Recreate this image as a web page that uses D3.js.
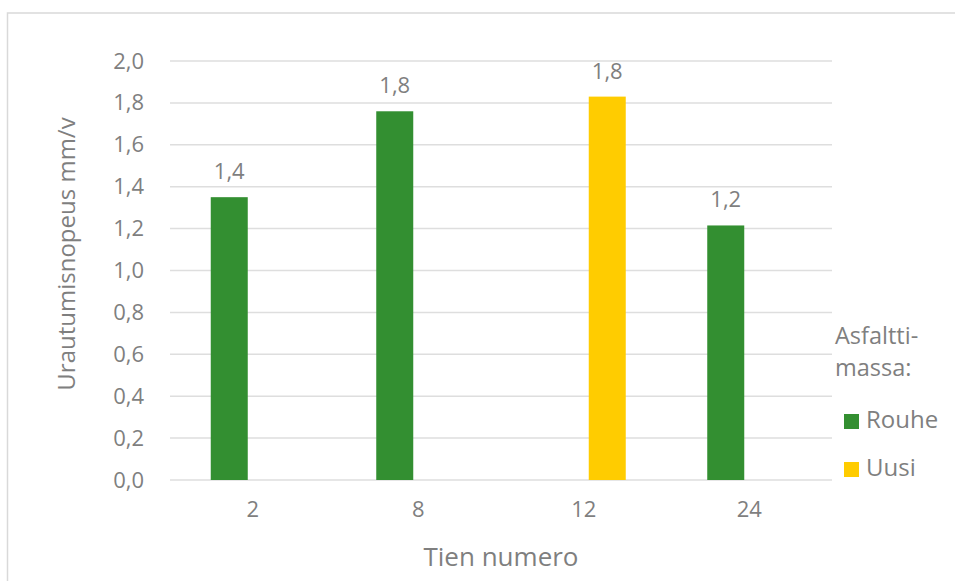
<!DOCTYPE html>
<html>
<head>
<meta charset="utf-8">
<script src="https://cdn.jsdelivr.net/npm/d3@7"></script>
<style>
  html, body { margin: 0; padding: 0; background: #fff; }
  svg { display: block; }
  text { font-family: "Open Sans", sans-serif; fill: #7f7f7f; }
</style>
</head>
<body>
<svg id="chart" width="955" height="581"></svg>
<script>
const categories = ["2", "8", "12", "24"];
const seriesNames = ["Rouhe", "Uusi"];
const rouheValues = [1.35, 1.76, null, 1.215];
const uusiValues = [null, null, 1.83, null];
const yTicks = [0, 0.2, 0.4, 0.6, 0.8, 1.0, 1.2, 1.4, 1.6, 1.8, 2.0];
const seriesColors = ["#338f31", "#ffcc00"];
const yTitle = "Urautumisnopeus mm/v";
const xTitle = "Tien numero";
const legendTitle = ["Asfaltti-", "massa:"];

const svg = d3.select("#chart");
const fmt = v => d3.format(".1f")(v).replace(".", ",");

// border
svg.append("rect").attr("x", 7.5).attr("y", 13).attr("width", 1000).attr("height", 700)
  .attr("fill", "none").attr("stroke", "#d9d9d9").attr("stroke-width", 1.5);

const plot = { left: 170, right: 832, top: 61, bottom: 480 };
const y = d3.scaleLinear().domain([0, 2]).range([plot.bottom, plot.top]);
const x0 = d3.scaleBand().domain(categories).range([plot.left, plot.right]).padding(0);
const x1 = d3.scaleBand().domain(seriesNames).range([0, x0.bandwidth()])
  .paddingInner(10 / 47).paddingOuter(40.75 / 47);

// gridlines
svg.append("g").selectAll("line").data(yTicks).join("line")
  .attr("x1", plot.left).attr("x2", plot.right)
  .attr("y1", d => y(d)).attr("y2", d => y(d))
  .attr("stroke", "#dedede").attr("stroke-width", 1.5);

// y axis labels
const yAxis = svg.append("g").attr("transform", `translate(${plot.left - 26},0)`)
  .call(d3.axisLeft(y).tickValues(yTicks).tickFormat(fmt).tickSize(0).tickPadding(0));
yAxis.select(".domain").remove();
yAxis.selectAll("text").attr("fill", "#7f7f7f").style("font-size", "22px")
  .style("font-family", "'Open Sans', sans-serif");

// x axis labels
const xAxis = svg.append("g").attr("transform", `translate(0,${plot.bottom + 21})`)
  .call(d3.axisBottom(x0).tickSize(0).tickPadding(0));
xAxis.select(".domain").remove();
xAxis.selectAll("text").attr("fill", "#7f7f7f").style("font-size", "22px")
  .style("font-family", "'Open Sans', sans-serif");

// bars
const rows = categories.map((c, i) => ({ cat: c, vals: [rouheValues[i], uusiValues[i]] }));
const barData = [];
rows.forEach(r => r.vals.forEach((v, j) => { if (v != null) barData.push({ cat: r.cat, s: seriesNames[j], j, v }); }));

svg.append("g").selectAll("rect").data(barData).join("rect")
  .attr("x", d => x0(d.cat) + x1(d.s))
  .attr("width", x1.bandwidth())
  .attr("y", d => y(d.v))
  .attr("height", d => y(0) - y(d.v))
  .attr("fill", d => seriesColors[d.j]);

// data labels
svg.append("g").selectAll("text").data(barData).join("text")
  .attr("x", d => x0(d.cat) + x1(d.s) + x1.bandwidth() / 2)
  .attr("y", d => y(d.v) - 18)
  .attr("text-anchor", "middle")
  .style("font-size", "22px")
  .text(d => fmt(d.v));

// axis titles
svg.append("text")
  .attr("transform", `translate(75,254) rotate(-90)`)
  .attr("text-anchor", "middle")
  .style("font-size", "24px")
  .text(yTitle);

svg.append("text")
  .attr("x", (plot.left + plot.right) / 2)
  .attr("y", 566)
  .attr("text-anchor", "middle")
  .style("font-size", "26px")
  .text(xTitle);

// legend
const lg = svg.append("g");
lg.selectAll("text.title").data(legendTitle).join("text").attr("class", "title")
  .attr("x", 835).attr("y", (d, i) => 344 + i * 32)
  .style("font-size", "23.5px").text(d => d);
const items = lg.selectAll("g.item").data(seriesNames).join("g").attr("class", "item")
  .attr("transform", (d, i) => `translate(844,${414 + i * 48})`);
items.append("rect").attr("width", 15).attr("height", 15).attr("fill", (d, i) => seriesColors[i]);
items.append("text").attr("x", 22).attr("y", 14).style("font-size", "24px").text(d => d);
</script>
</body>
</html>
